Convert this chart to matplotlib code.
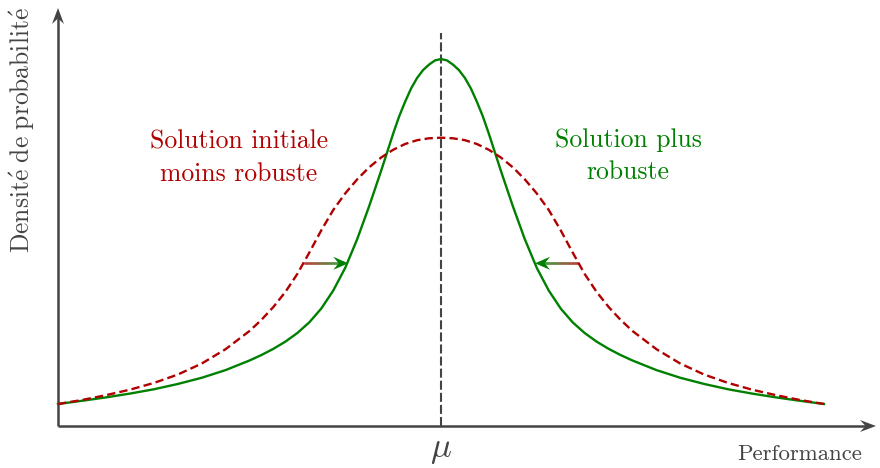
import numpy as np
import matplotlib
matplotlib.use("Agg")
import matplotlib.pyplot as plt
from matplotlib.collections import LineCollection
from matplotlib.patches import Polygon
import matplotlib.colors as mcolors

plt.rcParams['mathtext.fontset'] = 'cm'
plt.rcParams['font.family'] = ['cmr10', 'DejaVu Serif']
plt.rcParams['lines.scale_dashes'] = False

# ---- data ----
x_initiale = [-4.0, -3.75, -3.5, -3.25, -3.0, -2.75, -2.5, -2.25, -2.0, -1.875, -1.75, -1.625,
              -1.5, -1.375, -1.25, -1.125, -1.0, -0.875, -0.75, -0.625, -0.5, -0.375, -0.25,
              -0.125, 0.0, 0.125, 0.25, 0.375, 0.5, 0.625, 0.75, 0.875, 1.0, 1.125, 1.25,
              1.375, 1.5, 1.625, 1.75, 1.875, 2.0, 2.25, 2.5, 2.75, 3.0, 3.25, 3.5, 3.75, 4.0]

dens_initiale = [0.22, 0.26, 0.308, 0.363, 0.43, 0.514, 0.624, 0.768, 0.95, 1.062, 1.191, 1.341,
                 1.521, 1.735, 1.957, 2.161, 2.326, 2.467, 2.587, 2.685, 2.762, 2.82, 2.858,
                 2.877, 2.883, 2.877, 2.858, 2.82, 2.762, 2.685, 2.587, 2.467, 2.326, 2.161,
                 1.957, 1.735, 1.521, 1.341, 1.191, 1.062, 0.95, 0.768, 0.624, 0.514, 0.43,
                 0.363, 0.308, 0.26, 0.22]

x_robuste = [-4.0, -3.75, -3.5, -3.25, -3.0, -2.75, -2.5, -2.25, -2.0, -1.875, -1.75, -1.625,
             -1.5, -1.375, -1.25, -1.125, -1.0, -0.875, -0.75, -0.625, -0.5, -0.4375, -0.375,
             -0.3125, -0.25, -0.1875, -0.125, -0.0625, 0.0, 0.0625, 0.125, 0.1875, 0.25,
             0.3125, 0.375, 0.4375, 0.5, 0.625, 0.75, 0.875, 1.0, 1.125, 1.25, 1.375, 1.5,
             1.625, 1.75, 1.875, 2.0, 2.25, 2.5, 2.75, 3.0, 3.25, 3.5, 3.75, 4.0]

dens_robuste = [0.22, 0.252, 0.286, 0.324, 0.367, 0.42, 0.482, 0.559, 0.655, 0.71, 0.772, 0.844,
                0.93, 1.037, 1.175, 1.355, 1.582, 1.869, 2.199, 2.553, 2.922, 3.095, 3.242,
                3.375, 3.48, 3.559, 3.614, 3.656, 3.67, 3.656, 3.614, 3.559, 3.48,
                3.375, 3.242, 3.095, 2.922, 2.553, 2.199, 1.869, 1.582, 1.355, 1.175, 1.037, 0.93,
                0.844, 0.772, 0.71, 0.655, 0.559, 0.482, 0.42, 0.367, 0.324, 0.286, 0.252, 0.22]

mu = 0.0
arrow_y = 1.627
arrow_left = (-1.431, -0.968)   # from initial curve to robust curve
arrow_right = (1.434, 0.982)

RED = '#b00000'
GREEN = '#008000'
GREY = '#444444'

fig = plt.figure(figsize=(8.8, 4.68), dpi=100)
ax = fig.add_axes([0, 0, 1, 1])
ax.set_xlim(-4.6057, 4.5849)
ax.set_ylim(-0.42, 4.26)
ax.axis('off')

PX = 1 / 95.75   # one pixel in x units
PY = 1 / 100.0   # one pixel in y units


def stealth(tip_x, tip_y, direction, length_px, width_px, color, z=5):
    """direction: (dx, dy) unit vector in pixel space"""
    dx, dy = direction
    nx, ny = -dy, dx
    L, W = length_px, width_px / 2
    pts_px = [(0, 0),
              (-L * dx + W * nx, -L * dy + W * ny),
              (-0.65 * L * dx, -0.65 * L * dy),
              (-L * dx - W * nx, -L * dy - W * ny)]
    pts = [(tip_x + px * PX, tip_y + py * PY) for px, py in pts_px]
    ax.add_patch(Polygon(pts, closed=True, color=color, lw=0, zorder=z))


# axes
x_axis_tip = 4.543
y_axis_tip = 4.18
ax.plot([-4.0, x_axis_tip - 8 * PX], [0, 0], color=GREY, lw=1.8, solid_capstyle='butt', zorder=3)
ax.plot([-4.0, -4.0], [0, y_axis_tip - 8 * PY], color=GREY, lw=1.8, solid_capstyle='butt', zorder=3)
stealth(x_axis_tip, 0, (1, 0), 16, 12, GREY)
stealth(-4.0, y_axis_tip, (0, 1), 16, 12, GREY)

# mu line
ax.plot([mu, mu], [0, 3.93], color=GREY, lw=1.5, ls=(0, (6.5, 2.2)), zorder=2)

# curves
ax.plot(x_robuste, dens_robuste, color=GREEN, lw=1.7, zorder=4, solid_joinstyle='round')
ax.plot(x_initiale, dens_initiale, color=RED, lw=1.7, ls=(0, (6.0, 3.0)), zorder=4,
        dash_joinstyle='round')

# gradient arrows
cmap = mcolors.LinearSegmentedColormap.from_list('rg', [RED, GREEN])
for (xs, xe) in [arrow_left, arrow_right]:
    sgn = 1 if xe > xs else -1
    head_len = 14 * PX
    xend = xe - sgn * head_len * 0.6
    xx = np.linspace(xs, xend, 40)
    segs = [[(xx[i], arrow_y), (xx[i + 1], arrow_y)] for i in range(len(xx) - 1)]
    lc = LineCollection(segs, colors=[cmap(i / (len(segs) - 1)) for i in range(len(segs))],
                        linewidths=1.9, zorder=5)
    ax.add_collection(lc)
    stealth(xe, arrow_y, (sgn, 0), 15, 13, GREEN, z=6)

# texts
FS = 18.5
ax.text(-2.109, 2.84, 'Solution initiale', color=RED, fontsize=FS, ha='center', va='center')
ax.text(-2.109, 2.52, 'moins robuste', color=RED, fontsize=FS, ha='center', va='center')
ax.text(1.953, 2.86, 'Solution plus', color=GREEN, fontsize=FS, ha='center', va='center')
ax.text(1.953, 2.54, 'robuste', color=GREEN, fontsize=FS, ha='center', va='center')

ax.text(-4.37, 2.96, r'$\mathrm{Densit\acute{e}\ de\ probabilit\acute{e}}$', color=GREY,
        fontsize=18.4, rotation=90, ha='center', va='center')
ax.text(4.4, -0.28, 'Performance', color=GREY, fontsize=16.4, ha='right', va='center')
ax.text(mu, -0.24, r'$\mu$', color=GREY, fontsize=25, ha='center', va='center')

fig.savefig('out.png', dpi=100)
